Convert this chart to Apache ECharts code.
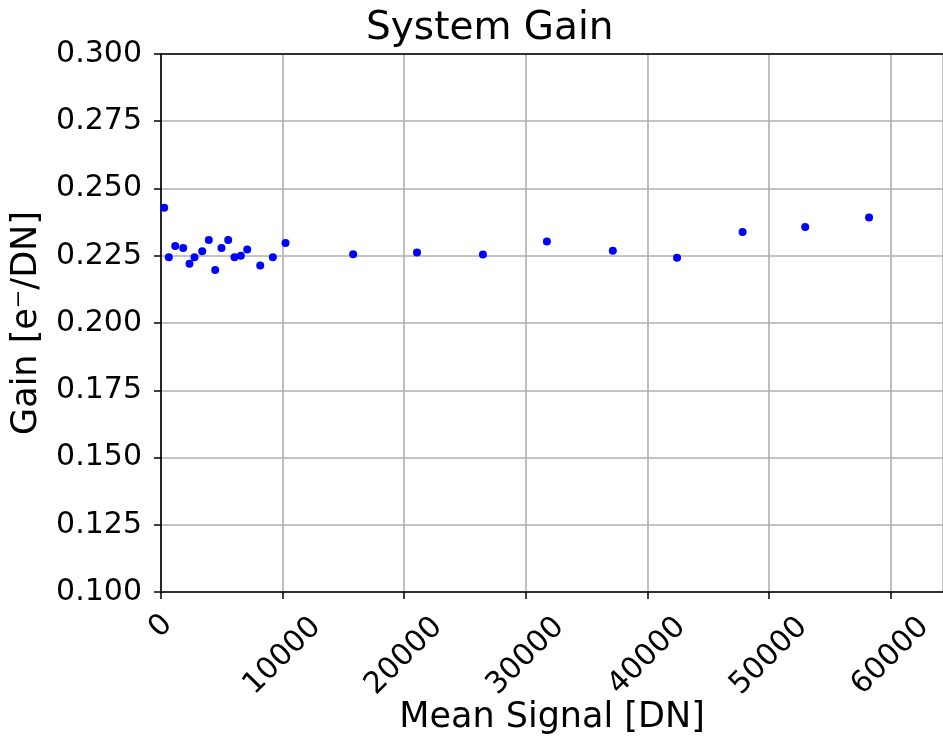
<!DOCTYPE html>
<html>
<head>
<meta charset="utf-8">
<script src="https://cdn.jsdelivr.net/npm/echarts@6/dist/echarts.min.js"></script>
<style>html,body{margin:0;padding:0;background:#fff}#c{width:943px;height:744px}</style>
</head>
<body>
<div id="c"></div>
<script>
const meanSignal = [263, 641, 1168, 1826, 2344, 2755, 3388, 3931, 4457, 4975, 5526, 6044, 6563, 7089, 8158, 9194, 10238, 15800, 21050, 26470, 31730, 37150, 42430, 47820, 52970, 58220];
const gain = [0.2428, 0.2244, 0.2286, 0.2279, 0.2220, 0.2244, 0.2267, 0.2309, 0.2197, 0.2279, 0.2309, 0.2244, 0.2250, 0.2273, 0.2214, 0.2244, 0.2297, 0.2256, 0.2262, 0.2255, 0.2303, 0.2269, 0.2243, 0.2338, 0.2357, 0.2392];
const xTicks = [0, 10000, 20000, 30000, 40000, 50000, 60000];
const yTicks = ['0.100','0.125','0.150','0.175','0.200','0.225','0.250','0.275','0.300'];

const FONT = 'DejaVu Sans';
const chart = echarts.init(document.getElementById('c'), null, {renderer: 'canvas'});
const points = meanSignal.map((x, i) => [x, gain[i]]);

chart.setOption({
  animation: false,
  backgroundColor: '#ffffff',
  textStyle: {fontFamily: FONT, color: '#000'},
  title: {
    text: 'System Gain', left: 361, top: 4,
    textStyle: {fontFamily: FONT, fontSize: 39, fontWeight: 'normal', color: '#000'}
  },
  grid: {left: 161, top: 54, right: 0, bottom: 152, containLabel: false, outerBoundsMode: 'none'},
  xAxis: [{
    type: 'value', min: 0, max: 64300, interval: 10000,
    name: 'Mean Signal [DN]', nameLocation: 'middle', nameGap: 108, nameMoveOverlap: false,
    nameTextStyle: {fontFamily: FONT, fontSize: 35, color: '#000'},
    axisLine: {show: true, onZero: false, lineStyle: {color: '#000', width: 1.6}},
    axisTick: {show: true, inside: false, length: 7, lineStyle: {color: '#000', width: 1.5}},
    splitLine: {show: true, lineStyle: {color: '#b0b0b0', width: 1.6}},
    axisLabel: {
      rotate: 45, align: 'right', verticalAlign: 'middle', margin: -3,
      fontFamily: FONT, fontSize: 30, color: '#000',
      showMaxLabel: false,
      formatter: v => (xTicks.indexOf(v) < 0 ? '' : (v === 0 ? '{s|0}' : '{l|' + v + '}')),
      rich: {
        s: {fontFamily: FONT, fontSize: 30, color: '#000', padding: [53, 17, 0, 0]},
        l: {fontFamily: FONT, fontSize: 30, color: '#000', padding: [95, 0, 0, 0]}
      }
    }
  }, {
    type: 'value', position: 'top', min: 0, max: 64300, interval: 10000,
    axisLine: {show: true, onZero: false, lineStyle: {color: '#000', width: 1.6}},
    axisTick: {show: false}, axisLabel: {show: false}, splitLine: {show: false}
  }],
  yAxis: {
    type: 'value', min: 0.1, max: 0.3, interval: 0.025,
    name: 'Gain [e\u207B/DN]', nameLocation: 'middle', nameGap: 117, nameMoveOverlap: false,
    nameTextStyle: {fontFamily: FONT, fontSize: 35, color: '#000'},
    axisLine: {show: true, onZero: false, lineStyle: {color: '#000', width: 1.6}},
    axisTick: {show: true, inside: false, length: 7, lineStyle: {color: '#000', width: 1.5}},
    splitLine: {show: true, lineStyle: {color: '#b0b0b0', width: 1.6}},
    axisLabel: {
      margin: 19, fontFamily: FONT, fontSize: 30, color: '#000',
      formatter: v => yTicks[Math.round((v - 0.1) / 0.025)]
    }
  },
  series: [{
    type: 'scatter', xAxisIndex: 0, data: points,
    symbol: 'circle', symbolSize: 8,
    itemStyle: {color: '#0000ff', opacity: 1}
  }]
});
</script>
</body>
</html>
